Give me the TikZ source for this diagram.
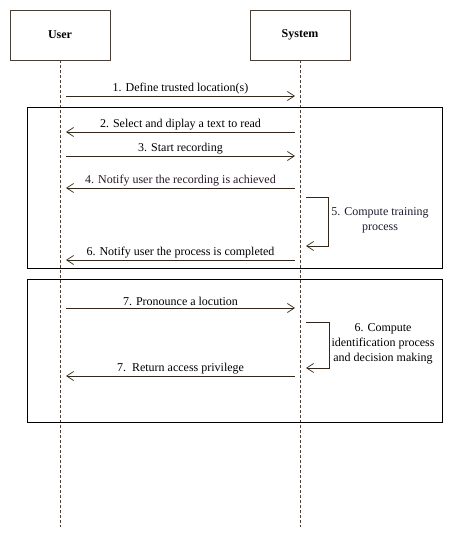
\documentclass[tikz,border=0pt]{standalone}
\usepackage{fontspec}
\setmainfont{Liberation Serif}
\usetikzlibrary{arrows.meta}
\definecolor{lineC}{HTML}{33261A}
\definecolor{boxC}{HTML}{4A3F38}
\definecolor{purpC}{HTML}{2A1628}
\definecolor{navyC}{HTML}{1C1C30}
\begin{document}
\begin{tikzpicture}[x=1pt,y=-1pt,
  actor/.style={draw=boxC,line width=0.7pt,minimum width=100pt,minimum height=50pt,font=\fontsize{12}{14}\selectfont\bfseries,inner sep=0pt},
  lifeline/.style={draw=boxC,dashed,dash pattern=on 3pt off 2pt,line width=0.5pt},
  msg/.style={draw=lineC,line width=0.7pt,-{Straight Barb[length=7pt,width=9pt,line width=0.7pt]}},
  lbl/.style={font=\fontsize{12}{15}\selectfont,inner sep=1.5pt,text=black},
  frame/.style={draw=black,line width=0.8pt}]
\useasboundingbox (0,0) rectangle (457,537);
\node[actor] (user) at (60,35) {User};
\node[actor] (sys) at (300,35) {System};
\coordinate (uend) at (60,527);
\coordinate (send) at (300,527);
\draw[lifeline] (user.south) -- (uend);
\draw[lifeline] (sys.south) -- (send);
% frames
\node[frame,minimum width=415pt,minimum height=161pt,inner sep=0pt] (f1) at (234.5,187.5) {};
\node[frame,minimum width=415pt,minimum height=143pt,inner sep=0pt] (f2) at (234.5,350.5) {};
% message endpoints
\coordinate (u1) at (66,96);  \coordinate (s1) at (295,96);
\coordinate (u2) at (66,132); \coordinate (s2) at (295,132);
\coordinate (u3) at (66,156); \coordinate (s3) at (295,156);
\coordinate (u4) at (66,188); \coordinate (s4) at (295,188);
\coordinate (u6) at (66,260); \coordinate (s6) at (295,260);
\coordinate (u7) at (66,308); \coordinate (s7) at (295,308);
\coordinate (u8) at (66,376); \coordinate (s8) at (295,376);
\coordinate (l5a) at (306,197); \coordinate (l5b) at (328,197);
\coordinate (l5c) at (328,246); \coordinate (l5d) at (306,246);
\coordinate (l6a) at (306,322); \coordinate (l6b) at (329,322);
\coordinate (l6c) at (329,368); \coordinate (l6d) at (306,368);
\draw[msg] (u1) -- node[lbl,above] {1. Define trusted location(s)} (s1);
\draw[msg] (s2) -- node[lbl,above] {2. Select and diplay a text to read} (u2);
\draw[msg] (u3) -- node[lbl,above] {3. Start recording} (s3);
\draw[msg] (s4) -- node[lbl,above,text=purpC] {4. Notify user the recording is achieved} (u4);
\draw[msg] (l5a) -- (l5b) -- (l5c) -- (l5d);
\node[lbl,align=center,text=navyC] (t5) at (380,220) {5. Compute training\\process};
\draw[msg] (s6) -- node[lbl,above] {6. Notify user the process is completed} (u6);
\draw[msg] (u7) -- node[lbl,above] {7. Pronounce a locution} (s7);
\draw[msg] (l6a) -- (l6b) -- (l6c) -- (l6d);
\node[lbl,align=center] (t6) at (383,344) {6. Compute\\identification process\\and decision making};
\draw[msg] (s8) -- node[lbl,above] {7.\ \ Return access privilege} (u8);
\end{tikzpicture}
\end{document}
